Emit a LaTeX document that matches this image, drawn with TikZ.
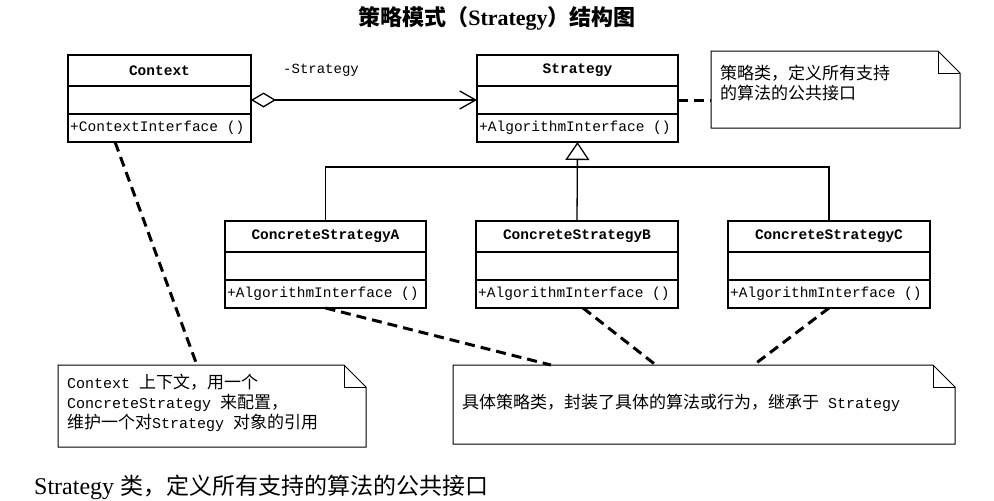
\documentclass[tikz,border=0pt]{standalone}
\usepackage{fontspec}
\setmainfont{Liberation Serif}
\newfontfamily\mono{Liberation Mono}
\newfontfamily\cjk{Noto Sans CJK SC}
\usetikzlibrary{arrows.meta,calc}
\newcommand\m[1]{{\mono\fontsize{15}{20}\selectfont #1}}
\newcommand\umlclass[6]{%
  \node[hdr, minimum width=#4, minimum height=31pt] (#1H) at (#2,#3) {#5};
  \node[row, minimum width=#4, minimum height=28pt] (#1A) at (#1H.south west) {};
  \node[row, minimum width=#4, minimum height=28pt] (#1O) at (#1A.south west) {};
  \node[optext, xshift=2pt] (#1T) at (#1O.west) {#6};
}
\newcommand\notebox[5]{%
  \node[anchor=north west, minimum width=#4, minimum height=#5, inner sep=0pt, outer sep=0pt] (#1) at (#2,#3) {};
  \draw[notedraw] (#1.north west) -- ([xshift=-22pt]#1.north east) -- ([yshift=-22pt]#1.north east) -- (#1.south east) -- (#1.south west) -- cycle;
  \draw[notedraw] ([xshift=-22pt]#1.north east) |- ([yshift=-22pt]#1.north east);
}
\begin{document}
\begin{tikzpicture}[x=1pt,y=-1pt,
  row/.style={draw, line width=1.3pt, anchor=north west, inner sep=0pt, outer sep=0pt},
  hdr/.style={row, font=\mono\bfseries\fontsize{14.5}{16}\selectfont, align=center},
  optext/.style={anchor=west, inner sep=0pt, font=\mono\fontsize{14.5}{16}\selectfont},
  notedraw/.style={line width=1pt},
  notetext/.style={anchor=west, inner sep=0pt, align=left, font=\cjk\fontsize{17}{20}\selectfont},
  dashline/.style={line width=3pt, dash pattern=on 10pt off 6pt},
  conn/.style={line width=1.3pt}]
\fill[white] (0,0) rectangle (994,501);
\useasboundingbox (0,0) rectangle (994,501);

\node[font=\cjk\bfseries\fontsize{22}{24}\selectfont] (title) at (497,18) {策略模式（{\rmfamily\bfseries Strategy}）结构图};

\umlclass{ctx}{68}{55}{183pt}{Context}{+ContextInterface ()}
\umlclass{strat}{477}{55}{201pt}{Strategy}{+AlgorithmInterface ()}
\umlclass{cA}{225}{221}{201pt}{ConcreteStrategyA}{+AlgorithmInterface ()}
\umlclass{cB}{476}{221}{202pt}{ConcreteStrategyB}{+AlgorithmInterface ()}
\umlclass{cC}{728}{221}{202pt}{ConcreteStrategyC}{+AlgorithmInterface ()}

% association
\draw[conn, {Diamond[open,length=25pt,width=15pt]}-{Straight Barb[length=16pt,width=18pt]}] (ctxA.east) -- (stratA.west);
\node[anchor=west, inner sep=0pt, font=\mono\fontsize{14}{16}\selectfont] (lblS) at (283,70) {-Strategy};

% generalization
\coordinate (bus) at (577,167);
\draw[conn] (cAH.north) |- (bus) -| (cCH.north);
\draw[conn, -{Triangle[open,length=18pt,width=24pt]}] (cBH.north) -- (stratO.south);

% notes
\notebox{n1}{711}{51}{249pt}{77pt}
\node[notetext] (n1t) at (720,83) {策略类，定义所有支持\\的算法的公共接口};
\notebox{sn}{58}{365}{308pt}{82pt}
\node[notetext] (snt) at (67,403) {\m{Context }上下文，用一个\\\m{ConcreteStrategy }来配置，\\维护一个对\m{Strategy }对象的引用};
\notebox{bn}{453}{365}{502pt}{79pt}
\node[notetext] (bnt) at (462,403) {具体策略类，封装了具体的算法或行为，继承于\m{ Strategy}};

% dashed note links
\draw[dashline] (stratA.east) -- (stratA.east -| n1.west);
\draw[dashline] ($(ctxO.south west)!0.257!(ctxO.south east)$) -- ($(sn.north west)!0.451!(sn.north east)$);
\draw[dashline] (cAO.south) -- ($(bn.north west)!0.195!(bn.north east)$);
\draw[dashline] ($(cBO.south west)!0.53!(cBO.south east)$) -- ($(bn.north west)!0.404!(bn.north east)$);
\draw[dashline] (cCO.south) -- ($(bn.north west)!0.599!(bn.north east)$);

\node[anchor=west, inner sep=0pt, font=\fontsize{24}{26}\selectfont] (foot) at (34,487) {Strategy {\cjk\fontsize{23}{24}\selectfont 类，定义所有支持的算法的公共接口}};
\end{tikzpicture}
\end{document}
